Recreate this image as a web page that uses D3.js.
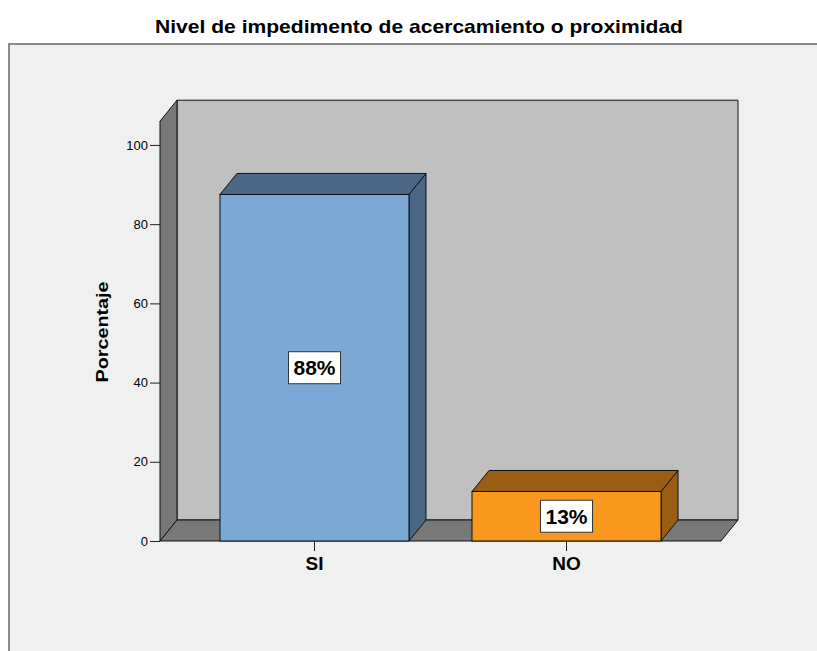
<!DOCTYPE html>
<html>
<head>
<meta charset="utf-8">
<script src="https://cdnjs.cloudflare.com/ajax/libs/d3/7.8.5/d3.min.js"></script>
<style>
  body { margin: 0; background: #ffffff; }
  text { font-family: "Liberation Sans", Arial, sans-serif; fill: #000; }
</style>
</head>
<body>
<script>
var width = 817;
var height = 651;

// data
var categories = ["SI", "NO"];
var values = [87.5, 12.5];
var valueLabels = ["88%", "13%"];
var yTicks = [0, 20, 40, 60, 80, 100];

var frontColors = ["#7ba8d5", "#f8981f"];
var darkColors = ["#4a6784", "#9a5d14"];

// creat svg
var svgContainer = d3.select("body")
                     .append("svg")
                     .attr("width", width)
                     .attr("height", height);

// depth of the 3d box
var dx = 17, dy = -21;

var x = d3.scaleBand().domain(categories).range([160, 721]).paddingInner(0.25).paddingOuter(0.238),
    y = d3.scaleLinear().domain([0, 106]).range([541, 121.2]);

// frame
svgContainer.append("rect")
    .attr("x", 9).attr("y", 44)
    .attr("width", 830).attr("height", 640)
    .attr("fill", "#f0f0f0")
    .attr("stroke", "#8c8c8c")
    .attr("stroke-width", 2);

svgContainer.append("text")
    .attr("x", 419)
    .attr("y", 33)
    .attr("text-anchor", "middle")
    .style("font-size", "19px")
    .style("font-weight", "bold")
    .attr("textLength", 528)
    .attr("lengthAdjust", "spacingAndGlyphs")
    .text("Nivel de impedimento de acercamiento o proximidad");

var x0 = x.range()[0], x1 = x.range()[1];
var y0 = y(0), yTop = y(106);

function pts(a) {
    return a.map(function (p) { return p.join(","); }).join(" ");
}

var box = svgContainer.append("g").attr("id", "box");

// back wall
box.append("polygon")
    .attr("points", pts([[x0 + dx, yTop + dy], [x1 + dx, yTop + dy], [x1 + dx, y0 + dy], [x0 + dx, y0 + dy]]))
    .attr("fill", "#c0c0c0").attr("stroke", "#111").attr("stroke-width", 1);

// left wall
box.append("polygon")
    .attr("points", pts([[x0, y0], [x0, yTop], [x0 + dx, yTop + dy], [x0 + dx, y0 + dy]]))
    .attr("fill", "#787878").attr("stroke", "#111").attr("stroke-width", 1);

// floor
box.append("polygon")
    .attr("points", pts([[x0, y0], [x1, y0], [x1 + dx, y0 + dy], [x0 + dx, y0 + dy]]))
    .attr("fill", "#787878").attr("stroke", "#111").attr("stroke-width", 1);

// y axis
var yaxis = d3.axisLeft(y).tickValues(yTicks).tickSize(10).tickPadding(2);
var gy = svgContainer.append("g")
    .attr("class", "axisy")
    .attr("transform", "translate(" + x0 + ",0)")
    .call(yaxis);
gy.select(".domain").remove();
gy.selectAll("line").attr("stroke", "#222");
gy.selectAll("text")
    .style("font-size", "13px")
    .style("font-family", "'Liberation Sans', Arial, sans-serif")
    .attr("fill", "#222");

svgContainer.append("text")
    .attr("transform", "translate(108,332) rotate(-90)")
    .attr("text-anchor", "middle")
    .style("font-size", "17px")
    .style("font-weight", "bold")
    .attr("textLength", 101)
    .attr("lengthAdjust", "spacingAndGlyphs")
    .text("Porcentaje");

// x axis
var xaxis = d3.axisBottom(x).tickSize(10).tickPadding(6);
var gx = svgContainer.append("g")
    .attr("transform", "translate(0," + y0 + ")")
    .call(xaxis);
gx.select(".domain").remove();
gx.selectAll("line").attr("stroke", "#222");
gx.selectAll("text")
    .style("font-size", "19px")
    .style("font-weight", "bold")
    .style("font-family", "'Liberation Sans', Arial, sans-serif")
    .attr("fill", "#111");

// bars
var bars = svgContainer.selectAll(".bar")
    .data(values)
    .enter()
    .append("g")
    .attr("class", "bar");

bars.append("polygon")
    .attr("points", function (d, i) {
        var bx = x(categories[i]) + x.bandwidth();
        return pts([[bx, y0], [bx, y(d)], [bx + dx, y(d) + dy], [bx + dx, y0 + dy]]);
    })
    .attr("fill", function (d, i) { return darkColors[i]; })
    .attr("stroke", "#111").attr("stroke-width", 1);

bars.append("polygon")
    .attr("points", function (d, i) {
        var bx = x(categories[i]);
        var bw = x.bandwidth();
        return pts([[bx, y(d)], [bx + bw, y(d)], [bx + bw + dx, y(d) + dy], [bx + dx, y(d) + dy]]);
    })
    .attr("fill", function (d, i) { return darkColors[i]; })
    .attr("stroke", "#111").attr("stroke-width", 1);

bars.append("rect")
    .attr("x", function (d, i) { return x(categories[i]); })
    .attr("y", function (d) { return y(d); })
    .attr("width", x.bandwidth())
    .attr("height", function (d) { return y0 - y(d); })
    .attr("fill", function (d, i) { return frontColors[i]; })
    .attr("stroke", "#111").attr("stroke-width", 1);

// value labels
var lab = bars.append("g")
    .attr("transform", function (d, i) {
        return "translate(" + (x(categories[i]) + x.bandwidth() / 2) + "," + y(d / 2) + ")";
    });

lab.append("rect")
    .attr("x", -26).attr("y", -16)
    .attr("width", 52).attr("height", 32)
    .attr("fill", "#ffffff")
    .attr("stroke", "#333").attr("stroke-width", 1);

lab.append("text")
    .attr("text-anchor", "middle")
    .attr("dy", "0.36em")
    .style("font-size", "21px")
    .style("font-weight", "bold")
    .text(function (d, i) { return valueLabels[i]; });
</script>
</body>
</html>
